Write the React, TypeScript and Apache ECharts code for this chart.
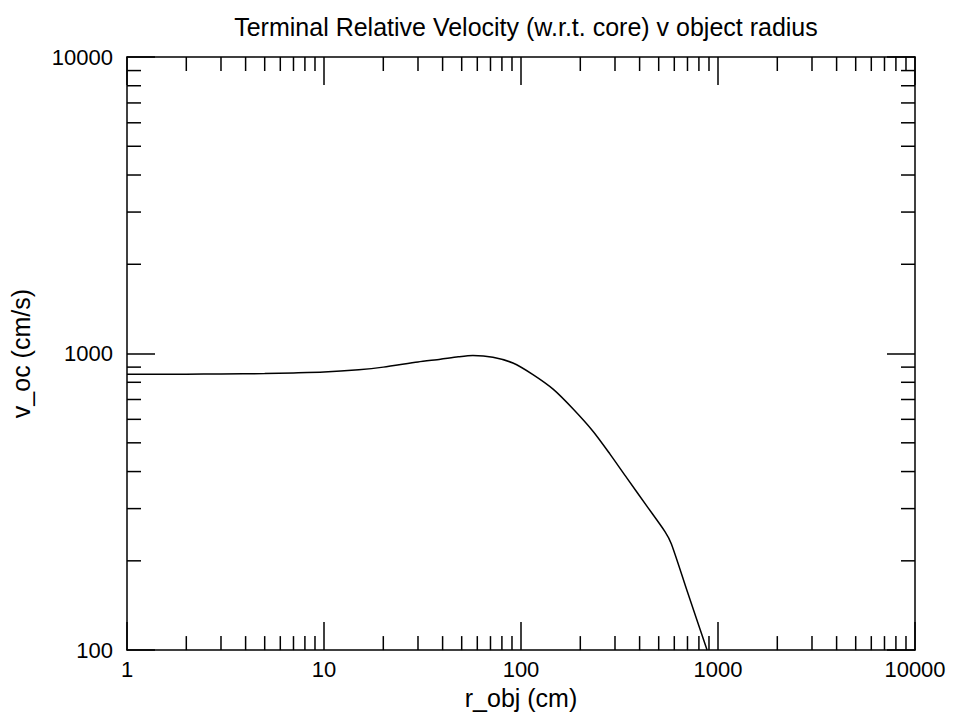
import React, { useEffect, useRef } from "react";
import * as echarts from "echarts";

const titleText = "Terminal Relative Velocity (w.r.t. core) v object radius";
const xName = "r_obj (cm)";
const yName = "v_oc (cm/s)";

const xMin = 1;
const xMax = 10000;
const yMin = 100;
const yMax = 10000;

// curve: object radius (cm) -> terminal relative velocity (cm/s)
const radius = [1, 2, 3, 5, 7, 10, 15, 20, 30, 39, 48, 57, 72, 91, 115, 146, 184, 233, 283, 345, 440, 538, 580, 700, 880];
const velocity = [851, 852, 853, 856, 860, 866, 882, 900, 937, 957, 975, 985, 972, 929, 849, 757, 650, 545, 458, 380, 303, 251, 228, 157, 100];

const minorMultipliers = [2, 3, 4, 5, 6, 7, 8, 9];
const xDecades = [1, 10, 100, 1000];
const yDecades = [100, 1000];

const FONT = "Liberation Sans, Arial, Helvetica, sans-serif";

export default function App() {
  const ref = useRef<HTMLDivElement>(null);

  useEffect(() => {
    document.body.style.margin = "0";
    document.body.style.overflow = "hidden";
    if (!ref.current) return;
    const chart = echarts.init(ref.current, undefined, { renderer: "svg", width: 953, height: 715 });

    const tickData: number[][] = [];
    xDecades.forEach((d) => minorMultipliers.forEach((m) => tickData.push([d * m, yMin, 0])));
    yDecades.forEach((d) => minorMultipliers.forEach((m) => tickData.push([xMin, d * m, 1])));

    const axisLine = { show: true, onZero: false, lineStyle: { color: "#000", width: 1.5 } };
    const majorTick = { show: true, inside: true, length: 28, lineStyle: { color: "#000", width: 1.5 } };
    const fmt = (v: number) => String(Math.round(v));

    chart.setOption({
      animation: false,
      backgroundColor: "#fff",
      title: {
        text: titleText,
        left: 521,
        textAlign: "center",
        top: 9,
        textStyle: { fontFamily: FONT, fontSize: 25, fontWeight: "normal", color: "#000" },
      },
      grid: { left: 127, right: 38, top: 57, bottom: 58 },
      xAxis: [
        {
          type: "log",
          logBase: 10,
          min: xMin,
          max: xMax,
          position: "bottom",
          axisLine,
          axisTick: majorTick,
          splitLine: { show: false },
          axisLabel: { fontFamily: FONT, fontSize: 22, color: "#000", margin: 8, formatter: fmt },
          name: xName,
          nameLocation: "middle",
          nameGap: 28,
          nameTextStyle: { fontFamily: FONT, fontSize: 25, color: "#000" },
        },
        {
          type: "log",
          logBase: 10,
          min: xMin,
          max: xMax,
          position: "top",
          axisLine,
          axisTick: majorTick,
          splitLine: { show: false },
          axisLabel: { show: false },
        },
      ],
      yAxis: [
        {
          type: "log",
          logBase: 10,
          min: yMin,
          max: yMax,
          position: "left",
          axisLine,
          axisTick: majorTick,
          splitLine: { show: false },
          axisLabel: { fontFamily: FONT, fontSize: 22, color: "#000", margin: 14, formatter: fmt },
          name: yName,
          nameLocation: "middle",
          nameGap: 94,
          nameTextStyle: { fontFamily: FONT, fontSize: 25, color: "#000" },
        },
        {
          type: "log",
          logBase: 10,
          min: yMin,
          max: yMax,
          position: "right",
          axisLine,
          axisTick: majorTick,
          splitLine: { show: false },
          axisLabel: { show: false },
        },
      ],
      series: [
        {
          type: "line",
          xAxisIndex: 0,
          yAxisIndex: 0,
          data: radius.map((r, i) => [r, velocity[i]]),
          showSymbol: false,
          symbol: "none",
          smooth: 0.25,
          clip: true,
          lineStyle: { color: "#000", width: 1.5 },
          silent: true,
        },
        {
          type: "custom",
          xAxisIndex: 0,
          yAxisIndex: 0,
          silent: true,
          clip: false,
          data: tickData,
          renderItem: (_params: any, api: any) => {
            const v0 = api.value(0);
            const v1 = api.value(1);
            const kind = api.value(2);
            const style = { stroke: "#000", lineWidth: 1.5 };
            if (kind === 0) {
              const b = api.coord([v0, yMin]);
              const t = api.coord([v0, yMax]);
              return {
                type: "group",
                children: [
                  { type: "line", shape: { x1: b[0], y1: b[1], x2: b[0], y2: b[1] - 14 }, style },
                  { type: "line", shape: { x1: t[0], y1: t[1], x2: t[0], y2: t[1] + 14 }, style },
                ],
              };
            }
            const l = api.coord([xMin, v1]);
            const r = api.coord([xMax, v1]);
            return {
              type: "group",
              children: [
                { type: "line", shape: { x1: l[0], y1: l[1], x2: l[0] + 14, y2: l[1] }, style },
                { type: "line", shape: { x1: r[0], y1: r[1], x2: r[0] - 14, y2: r[1] }, style },
              ],
            };
          },
        },
      ],
    });

    return () => chart.dispose();
  }, []);

  return (
    <div
      ref={ref}
      style={{ position: "fixed", left: 0, top: 0, width: 953, height: 715, background: "#fff" }}
    />
  );
}
